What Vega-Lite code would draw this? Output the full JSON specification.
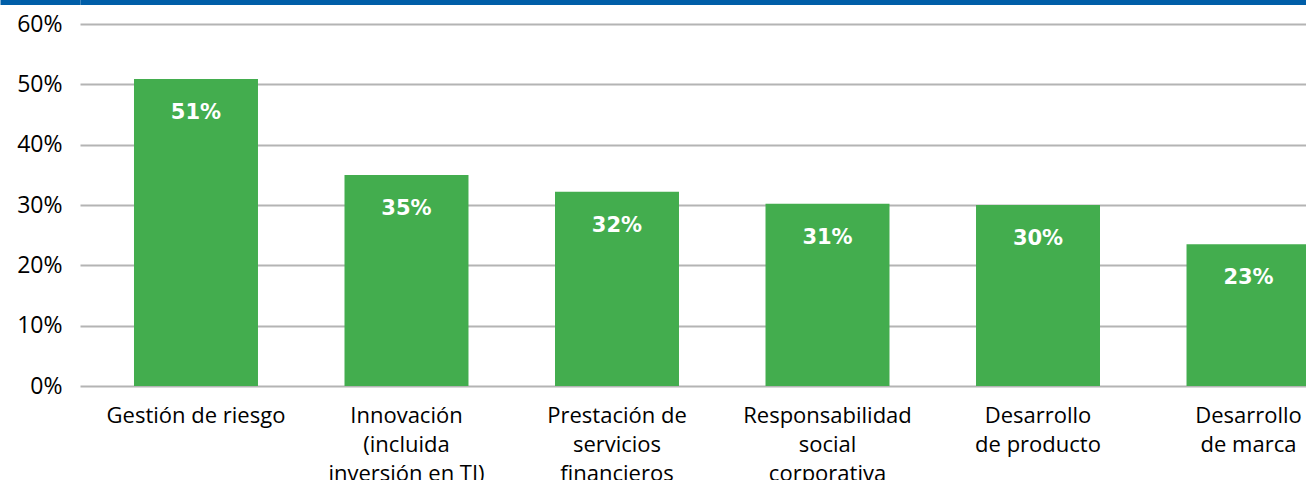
{
  "$schema": "https://vega.github.io/schema/vega-lite/v6.json",
  "width": 1226,
  "height": 386,
  "autosize": {"type": "none"},
  "padding": {"left": 80, "top": 0, "right": 0, "bottom": 94},
  "background": "white",
  "config": {"view": {"stroke": null}},
  "data": {
    "values": [
      {"area": "Gestión de riesgo", "share": 0.509, "label": "51%"},
      {"area": "Innovación\n(incluida\ninversión en TI)", "share": 0.35, "label": "35%"},
      {"area": "Prestación de\nservicios\nfinancieros", "share": 0.322, "label": "32%"},
      {"area": "Responsabilidad\nsocial\ncorporativa", "share": 0.302, "label": "31%"},
      {"area": "Desarrollo\nde producto", "share": 0.3, "label": "30%"},
      {"area": "Desarrollo\nde marca", "share": 0.235, "label": "23%"}
    ]
  },
  "encoding": {
    "x": {
      "field": "area",
      "type": "nominal",
      "sort": null,
      "scale": {"range": [0, 1284.5], "paddingInner": 0.411, "paddingOuter": 0.2565},
      "axis": {
        "title": null,
        "domain": false,
        "ticks": false,
        "grid": false,
        "labelAngle": 0,
        "labelExpr": "split(datum.value, '\\n')",
        "labelFont": "Open Sans",
        "labelFontSize": 22,
        "labelColor": "#000000",
        "labelBaseline": "alphabetic",
        "labelPadding": 36,
        "labelLineHeight": 29,
        "labelLimit": 0,
        "labelOverlap": false
      }
    },
    "y": {
      "field": "share",
      "type": "quantitative",
      "scale": {"domain": [0, 0.64], "nice": false, "zero": true},
      "axis": {
        "title": null,
        "domain": false,
        "values": [0, 0.1, 0.2, 0.3, 0.4, 0.5, 0.6, 0.636],
        "format": ".0%",
        "labelExpr": "datum.value > 0.62 ? '' : datum.label",
        "labelFont": "Open Sans",
        "labelFontSize": 23,
        "labelColor": "#000000",
        "labelPadding": 18,
        "labelBaseline": "middle",
        "grid": true,
        "gridColor": {"condition": {"test": "datum.value > 0.62", "value": "#005ea8"}, "value": "#b4b4b4"},
        "gridWidth": {"condition": {"test": "datum.value > 0.62", "value": 5}, "value": 2},
        "ticks": true,
        "tickColor": "#005ea8",
        "tickWidth": 5,
        "tickSize": {"condition": {"test": "datum.value > 0.62", "value": 80}, "value": 0}
      }
    }
  },
  "layer": [
    {"mark": {"type": "bar", "color": "#43ad4e"}},
    {
      "mark": {
        "type": "text",
        "color": "white",
        "font": "DejaVu Sans",
        "fontWeight": "bold",
        "fontSize": 21,
        "baseline": "alphabetic",
        "align": "center",
        "dy": 40
      },
      "encoding": {"text": {"field": "label"}}
    }
  ]
}
